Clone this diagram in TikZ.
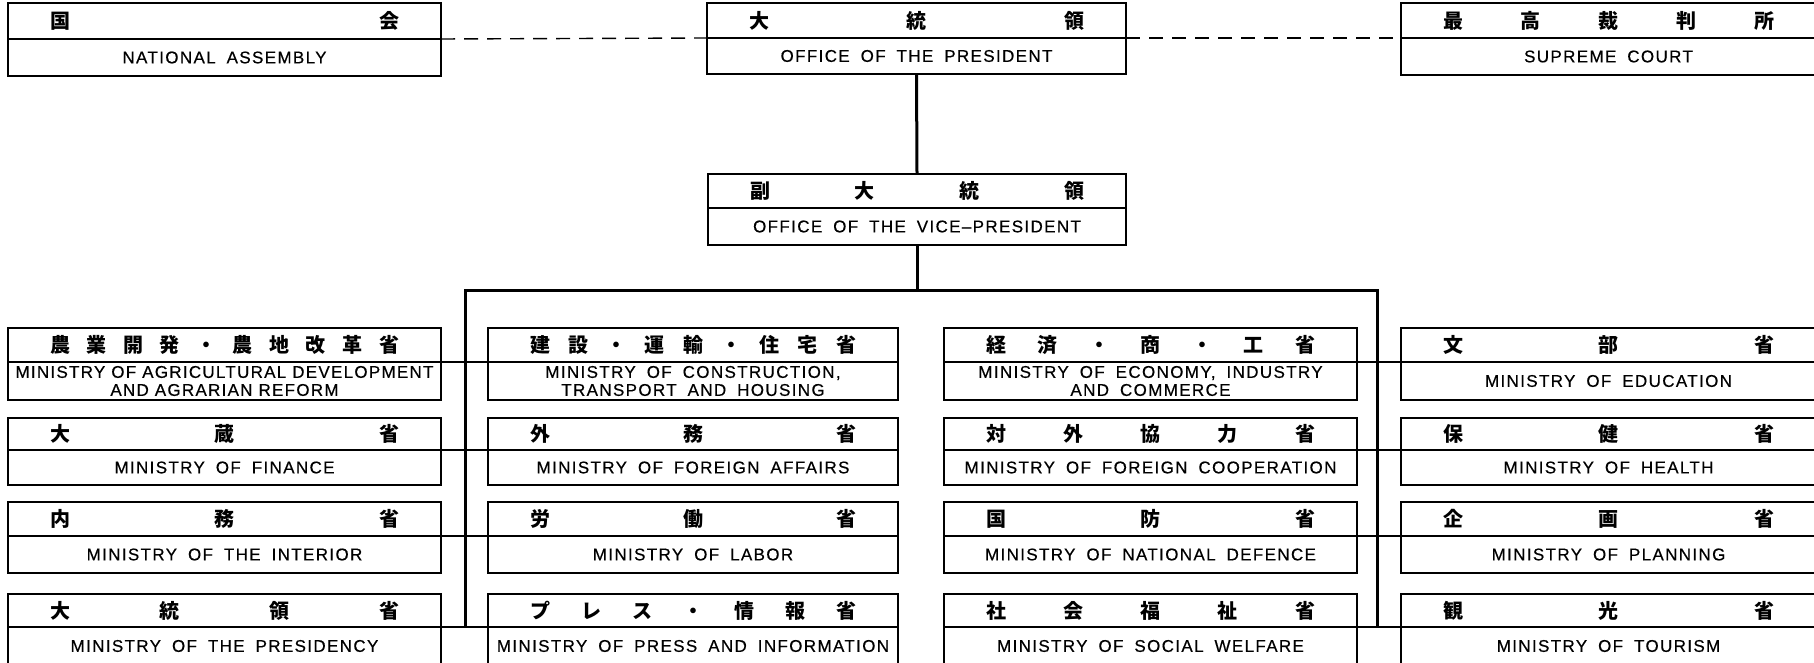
\documentclass[tikz,border=0pt]{standalone}
\usepackage{fontspec}
\newfontfamily\jpfont{Noto Sans CJK JP}
\newfontfamily\enfont{Liberation Sans}[LetterSpace=8,WordSpace=1.8,FakeBold=0.4]
\newfontfamily\enfontn{Liberation Sans}[LetterSpace=7.5,WordSpace=1.0,FakeBold=0.4]
\tikzset{
  box/.style={draw, line width=0.8pt, rectangle, inner sep=0pt, outer sep=0pt},
  divline/.style={line width=0.7pt},
  jptext/.style={font=\jpfont\bfseries\fontsize{10}{12}\selectfont, inner sep=0pt},
  entext/.style={font=\enfont\fontsize{8.5}{9}\selectfont, inner sep=0pt, align=center},
  bus/.style={line width=1.5pt},
  link/.style={line width=1.2pt},
  dashlink/.style={line width=0.7pt, dash pattern=on 7pt off 4.5pt},
}
\newcommand\obox[8]{%
  \pgfmathsetmacro\ow{(#3-#2)*0.5}%
  \pgfmathsetmacro\oh{(#6-#4)*0.5}%
  \pgfmathsetmacro\jw{(#3-#2)*0.5-42}%
  \node[box, minimum width=\ow pt, minimum height=\oh pt] (#1) at ({(#2+#3)/2},{(#4+#6)/2}) {};
  \coordinate (#1-dl) at (#2,#5);
  \coordinate (#1-dr) at (#3,#5);
  \draw[divline] (#1-dl) -- (#1-dr);
  \node[jptext] (#1-jp) at ({(#2+#3)/2},{(#4+#5)/2}) {\makebox[\jw pt][s]{#7}};
  \node[entext] (#1-en) at ({(#2+#3)/2},{(#5+#6)/2}) {#8};
}
\begin{document}
\begin{tikzpicture}[x=0.5pt, y=-0.5pt]
\fill[white] (0,0) rectangle (1814,663);
\useasboundingbox (0,0) rectangle (1814,663);
% top row
\obox{na}{8}{441}{3}{39}{76}{国\hfill 会}{NATIONAL ASSEMBLY}
\obox{pres}{707}{1126}{3}{38}{74}{大\hfill 統\hfill 領}{OFFICE OF THE PRESIDENT}
\obox{sc}{1401}{1816}{3}{38}{75}{最\hfill 高\hfill 裁\hfill 判\hfill 所}{SUPREME COURT}
\obox{vp}{708}{1126}{174}{208}{245}{副\hfill 大\hfill 統\hfill 領}{OFFICE OF THE VICE–PRESIDENT}
% row 1
\obox{agr}{8}{441}{328}{362}{400}{農\hfill 業\hfill 開\hfill 発\hfill ・\hfill 農\hfill 地\hfill 改\hfill 革\hfill 省}{\enfontn MINISTRY OF AGRICULTURAL DEVELOPMENT\\\enfontn AND AGRARIAN REFORM}
\obox{con}{488}{898}{328}{362}{400}{建\hfill 設\hfill ・\hfill 運\hfill 輸\hfill ・\hfill 住\hfill 宅\hfill 省}{MINISTRY OF CONSTRUCTION,\\TRANSPORT AND HOUSING}
\obox{eco}{944}{1357}{328}{362}{400}{経\hfill 済\hfill ・\hfill 商\hfill ・\hfill 工\hfill 省}{MINISTRY OF ECONOMY, INDUSTRY\\AND COMMERCE}
\obox{edu}{1401}{1816}{328}{362}{400}{文\hfill 部\hfill 省}{MINISTRY OF EDUCATION}
% row 2
\obox{fin}{8}{441}{418}{450}{485}{大\hfill 蔵\hfill 省}{MINISTRY OF FINANCE}
\obox{for}{488}{898}{418}{450}{485}{外\hfill 務\hfill 省}{MINISTRY OF FOREIGN AFFAIRS}
\obox{coo}{944}{1357}{418}{450}{485}{対\hfill 外\hfill 協\hfill 力\hfill 省}{MINISTRY OF FOREIGN COOPERATION}
\obox{hea}{1401}{1816}{418}{450}{485}{保\hfill 健\hfill 省}{MINISTRY OF HEALTH}
% row 3
\obox{int}{8}{441}{502}{536}{573}{内\hfill 務\hfill 省}{MINISTRY OF THE INTERIOR}
\obox{lab}{488}{898}{502}{536}{573}{労\hfill 働\hfill 省}{MINISTRY OF LABOR}
\obox{def}{944}{1357}{502}{536}{573}{国\hfill 防\hfill 省}{MINISTRY OF NATIONAL DEFENCE}
\obox{pla}{1401}{1816}{502}{536}{573}{企\hfill 画\hfill 省}{MINISTRY OF PLANNING}
% row 4
\obox{prs}{8}{441}{594}{627}{665}{大\hfill 統\hfill 領\hfill 省}{MINISTRY OF THE PRESIDENCY}
\obox{inf}{488}{898}{594}{627}{665}{プ\hfill レ\hfill ス\hfill ・\hfill 情\hfill 報\hfill 省}{MINISTRY OF PRESS AND INFORMATION}
\obox{wel}{944}{1357}{594}{627}{665}{社\hfill 会\hfill 福\hfill 祉\hfill 省}{MINISTRY OF SOCIAL WELFARE}
\obox{tou}{1401}{1816}{594}{627}{665}{観\hfill 光\hfill 省}{MINISTRY OF TOURISM}
% dashed links
\draw[dashlink] (na-dr) -- (pres-dl);
\draw[dashlink] (pres-dr) -- (sc-dl);
% hierarchy
\coordinate (bl-top) at (465,290);
\coordinate (bl-bot) at (465,627);
\coordinate (br-top) at (1377,290);
\coordinate (br-bot) at (1377,627);
\draw[bus] (pres.south) -- (vp.north);
\draw[bus] (vp.south) -- (vp.south |- bl-top);
\draw[bus] (bl-bot) -- (bl-top) -- (br-top) -- (br-bot);
\draw[link] (agr-dr) -- (con-dl);
\draw[link] (fin-dr) -- (for-dl);
\draw[link] (int-dr) -- (lab-dl);
\draw[link] (prs-dr) -- (inf-dl);
\draw[link] (eco-dr) -- (edu-dl);
\draw[link] (coo-dr) -- (hea-dl);
\draw[link] (def-dr) -- (pla-dl);
\draw[link] (wel-dr) -- (tou-dl);
\end{tikzpicture}
\end{document}
